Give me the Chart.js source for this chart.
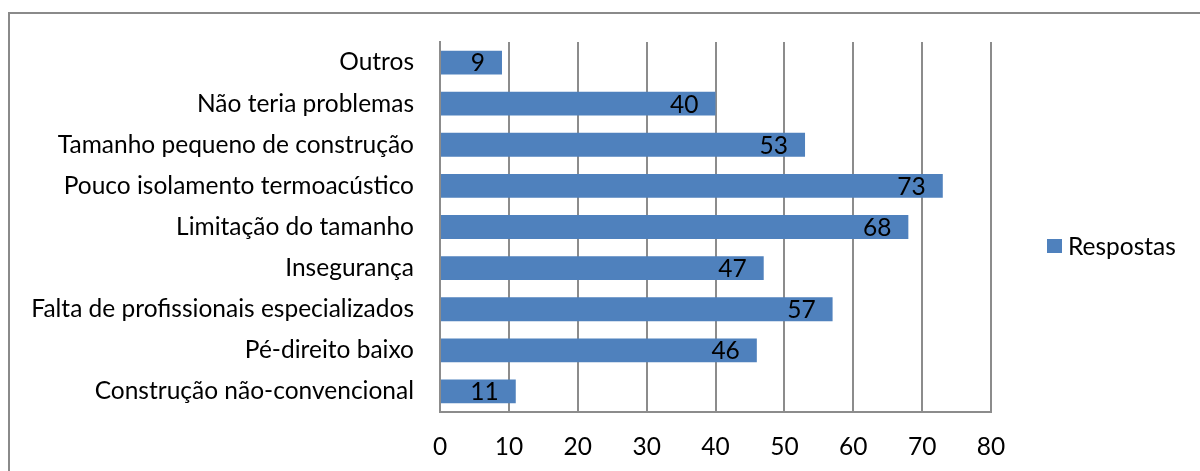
<!DOCTYPE html>
<html>
<head>
<meta charset="utf-8">
<script src="https://cdn.jsdelivr.net/npm/chart.js@4/dist/chart.umd.min.js"></script>
<style>
  html, body { margin: 0; padding: 0; background: #fff; overflow: hidden; }
  #wrap { position: relative; width: 1200px; height: 471px; }
  #frame { position: absolute; left: 8px; top: 12px; width: 1300px; height: 600px;
    border: 2px solid #8a8a8a; box-sizing: border-box; }
  #chart { position: absolute; left: 0; top: 0; }
</style>
</head>
<body>
<div id="wrap">
  <div id="frame"></div>
  <canvas id="chart" width="1200" height="471"></canvas>
</div>
<script>
var categories = [
  'Outros',
  'Não teria problemas',
  'Tamanho pequeno de construção',
  'Pouco isolamento termoacústico',
  'Limitação do tamanho',
  'Insegurança',
  'Falta de profissionais especializados',
  'Pé-direito baixo',
  'Construção não-convencional'
];
var respostas = [9, 40, 53, 73, 68, 47, 57, 46, 11];
var seriesName = 'Respostas';
var xTicks = [0, 10, 20, 30, 40, 50, 60, 70, 80];

var FONT = 'Lato, Carlito, Calibri, sans-serif';
var TEXT_SIZE = 24.5;
var NUM_SIZE = 24.5;
var BLUE = '#4f81bd';
var GRID = '#8c8c8c';

// valores escritos dentro da barra, encostados no fim
var barLabels = {
  id: 'barLabels',
  afterDatasetsDraw: function(chart){
    var ctx = chart.ctx, meta = chart.getDatasetMeta(0), data = chart.data.datasets[0].data;
    ctx.save();
    ctx.font = NUM_SIZE + 'px ' + FONT;
    ctx.fillStyle = '#000';
    ctx.textAlign = 'right';
    ctx.textBaseline = 'middle';
    meta.data.forEach(function(bar, i){
      ctx.fillText(String(data[i]), bar.x - 17, bar.y + 1);
    });
    ctx.restore();
  }
};

// legenda à direita
var sideLegend = {
  id: 'sideLegend',
  afterDraw: function(chart){
    var ctx = chart.ctx, area = chart.chartArea;
    var x = area.right + 56, y = 246;
    ctx.save();
    ctx.fillStyle = BLUE;
    ctx.fillRect(x, y - 7, 15, 14);
    ctx.font = TEXT_SIZE + 'px ' + FONT;
    ctx.fillStyle = '#000';
    ctx.textAlign = 'left';
    ctx.textBaseline = 'middle';
    ctx.fillText(seriesName, x + 21, y + 1);
    ctx.restore();
  }
};

new Chart(document.getElementById('chart'), {
  type: 'bar',
  data: {
    labels: categories,
    datasets: [{
      label: seriesName,
      data: respostas,
      backgroundColor: BLUE,
      borderWidth: 0,
      categoryPercentage: 0.58,
      barPercentage: 1
    }]
  },
  options: {
    indexAxis: 'y',
    responsive: false,
    animation: false,
    events: [],
    layout: { padding: { left: 0, right: 209, top: 42, bottom: 0 } },
    plugins: {
      legend: { display: false },
      tooltip: { enabled: false }
    },
    scales: {
      x: {
        min: 0,
        max: 80,
        afterBuildTicks: function(scale){
          scale.ticks = xTicks.map(function(v){ return { value: v }; });
        },
        afterFit: function(scale){ scale.height = 59; },
        grid: { color: GRID, lineWidth: 2, drawTicks: false },
        border: { color: GRID, width: 2 },
        ticks: { color: '#000', padding: 20, font: { family: FONT, size: NUM_SIZE } }
      },
      y: {
        afterFit: function(scale){ scale.width = 440; },
        grid: { display: false, drawTicks: false },
        border: { color: GRID, width: 2 },
        ticks: { color: '#000', padding: 26, font: { family: FONT, size: TEXT_SIZE } }
      }
    }
  },
  plugins: [barLabels, sideLegend]
});
</script>
</body>
</html>
